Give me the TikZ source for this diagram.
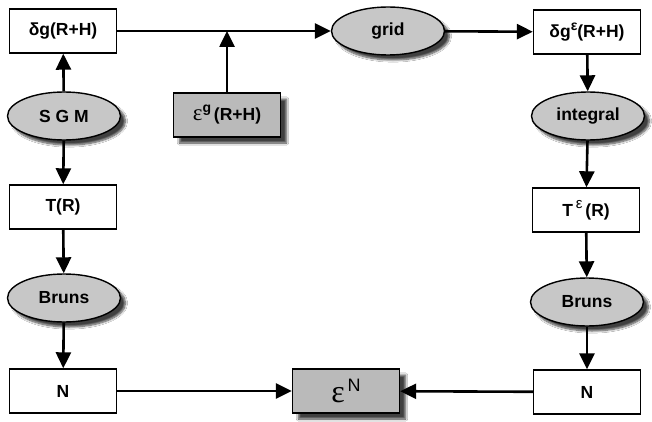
\documentclass[tikz,border=0pt]{standalone}
\usepackage{fontspec}
\setmainfont{Liberation Sans}
\newfontfamily\serifgr{Liberation Serif}
\usetikzlibrary{shapes.geometric,arrows.meta,shadows.blur}
\begin{document}
\begin{tikzpicture}[x=1pt,y=1pt,
  every node/.style={font=\bfseries\fontsize{17.5}{20}\selectfont},
  wbox/.style={draw, line width=1.4pt, fill=white, minimum width=107pt, minimum height=44pt, inner sep=0pt},
  gbox/.style={wbox, fill=black!27, blur shadow={shadow xshift=6pt, shadow yshift=-6pt, shadow blur steps=8, shadow opacity=75}},
  oval/.style={ellipse, draw, line width=1.4pt, fill=black!22, minimum width=113pt, minimum height=48pt, inner sep=0pt, blur shadow={shadow xshift=5pt, shadow yshift=-5pt, shadow blur steps=8, shadow opacity=75}},
  arr/.style={line width=2.6pt, -{Triangle[length=16pt,width=15pt]}}]
\fill[white] (0,0) rectangle (652,-422);
\useasboundingbox (0,0) rectangle (652,-422);
% left column
\node[wbox] (dg) at (63,-31) {δg(R+H)};
\node[oval] (sgm) at (64,-116) {S G M};
\node[wbox] (tr) at (63,-207) {T(R)};
\node[oval] (br1) at (64,-298) {Bruns};
\node[wbox] (n1) at (63,-391) {N};
% middle
\node[gbox] (eg) at (227,-115) {{\serifgr\mdseries\fontsize{23}{23}\selectfont ε}\raisebox{8pt}{\fontsize{14}{14}\selectfont g}\,(R+H)};
\node[oval] (grid) at (388,-31) {grid};
\node[gbox] (en) at (346,-391) {{\serifgr\mdseries\fontsize{32}{32}\selectfont ε}\,\raisebox{11pt}{\mdseries\fontsize{18}{18}\selectfont N}};
% right column
\node[wbox] (dge) at (587,-32) {δg\raisebox{7pt}{\fontsize{14}{14}\selectfont ε}(R+H)};
\node[oval] (int) at (588,-116) {integral};
\node[wbox] (te) at (586,-210) {T\,\raisebox{8pt}{\mdseries\fontsize{15}{15}\selectfont ε}\,(R)};
\node[oval] (br2) at (587,-302) {Bruns};
\node[wbox] (n2) at (587,-392) {N};
% connectors
\draw[arr] (sgm) -- (dg);
\draw[arr] (sgm) -- (tr);
\draw[arr] (tr) -- (br1);
\draw[arr] (br1) -- (n1);
\draw[arr] (dg) -- (grid);
\coordinate (j) at (eg.north |- dg.east);
\draw[arr] (eg.north) -- (j);
\draw[arr] (grid) -- (dge);
\draw[arr] (dge) -- (int);
\draw[arr] (int) -- (te);
\draw[arr] (te) -- (br2);
\draw[arr] (br2) -- (n2);
\draw[arr] (n1) -- (en);
\draw[arr] (n2) -- (en);
\end{tikzpicture}
\end{document}
